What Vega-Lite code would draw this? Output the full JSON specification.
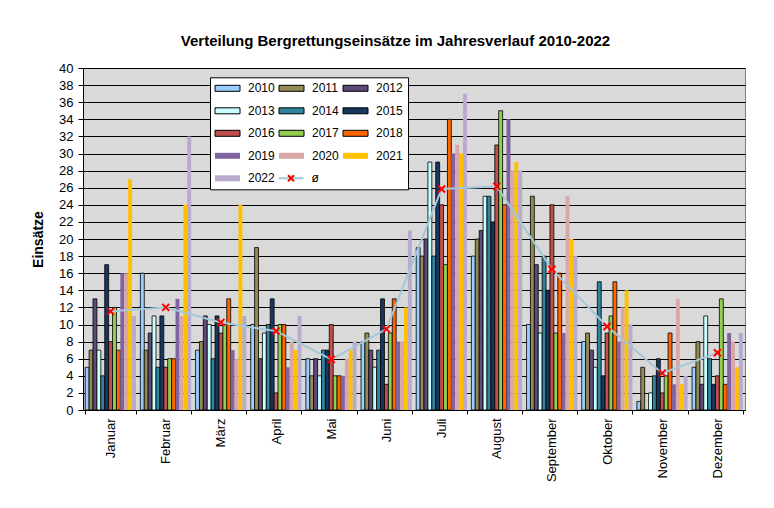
{
  "$schema": "https://vega.github.io/schema/vega-lite/v6.json",
  "width": 662,
  "height": 342,
  "autosize": {"type": "none"},
  "padding": {"left": 83, "top": 68, "right": 29, "bottom": 98},
  "background": "white",
  "config": {
    "font": "Liberation Sans",
    "view": {"fill": "#d9d9d9", "stroke": "#808080", "strokeWidth": 1}
  },
  "title": {
    "text": "Verteilung Bergrettungseinsätze im Jahresverlauf 2010-2022",
    "fontSize": 15, "fontWeight": "bold", "color": "black",
    "anchor": "middle", "frame": "group", "dx": -18.5, "offset": 1, "baseline": "alphabetic"
  },
  "datasets": {
    "bars": [
      {"m":"Januar","y":"2010","v":5},{"m":"Januar","y":"2011","v":7},{"m":"Januar","y":"2012","v":13},{"m":"Januar","y":"2013","v":7},{"m":"Januar","y":"2014","v":4},{"m":"Januar","y":"2015","v":17},{"m":"Januar","y":"2016","v":8},{"m":"Januar","y":"2017","v":12},{"m":"Januar","y":"2018","v":7},{"m":"Januar","y":"2019","v":16},{"m":"Januar","y":"2020","v":16},{"m":"Januar","y":"2021","v":27},{"m":"Januar","y":"2022","v":11},
      {"m":"Februar","y":"2010","v":16},{"m":"Februar","y":"2011","v":7},{"m":"Februar","y":"2012","v":9},{"m":"Februar","y":"2013","v":11},{"m":"Februar","y":"2014","v":5},{"m":"Februar","y":"2015","v":11},{"m":"Februar","y":"2016","v":5},{"m":"Februar","y":"2017","v":6},{"m":"Februar","y":"2018","v":6},{"m":"Februar","y":"2019","v":13},{"m":"Februar","y":"2020","v":11},{"m":"Februar","y":"2021","v":24},{"m":"Februar","y":"2022","v":32},
      {"m":"März","y":"2010","v":7},{"m":"März","y":"2011","v":8},{"m":"März","y":"2012","v":11},{"m":"März","y":"2013","v":10},{"m":"März","y":"2014","v":6},{"m":"März","y":"2015","v":11},{"m":"März","y":"2016","v":9},{"m":"März","y":"2017","v":10},{"m":"März","y":"2018","v":13},{"m":"März","y":"2019","v":7},{"m":"März","y":"2020","v":6},{"m":"März","y":"2021","v":24},{"m":"März","y":"2022","v":11},
      {"m":"April","y":"2010","v":10},{"m":"April","y":"2011","v":19},{"m":"April","y":"2012","v":6},{"m":"April","y":"2013","v":9},{"m":"April","y":"2014","v":10},{"m":"April","y":"2015","v":13},{"m":"April","y":"2016","v":2},{"m":"April","y":"2017","v":10},{"m":"April","y":"2018","v":10},{"m":"April","y":"2019","v":5},{"m":"April","y":"2020","v":8},{"m":"April","y":"2021","v":7},{"m":"April","y":"2022","v":11},
      {"m":"Mai","y":"2010","v":6},{"m":"Mai","y":"2011","v":4},{"m":"Mai","y":"2012","v":6},{"m":"Mai","y":"2013","v":4},{"m":"Mai","y":"2014","v":7},{"m":"Mai","y":"2015","v":7},{"m":"Mai","y":"2016","v":10},{"m":"Mai","y":"2017","v":4},{"m":"Mai","y":"2018","v":4},{"m":"Mai","y":"2019","v":4},{"m":"Mai","y":"2020","v":6},{"m":"Mai","y":"2021","v":7},{"m":"Mai","y":"2022","v":8},
      {"m":"Juni","y":"2010","v":8},{"m":"Juni","y":"2011","v":9},{"m":"Juni","y":"2012","v":7},{"m":"Juni","y":"2013","v":5},{"m":"Juni","y":"2014","v":7},{"m":"Juni","y":"2015","v":13},{"m":"Juni","y":"2016","v":3},{"m":"Juni","y":"2017","v":9},{"m":"Juni","y":"2018","v":13},{"m":"Juni","y":"2019","v":8},{"m":"Juni","y":"2020","v":8},{"m":"Juni","y":"2021","v":12},{"m":"Juni","y":"2022","v":21},
      {"m":"Juli","y":"2010","v":19},{"m":"Juli","y":"2011","v":18},{"m":"Juli","y":"2012","v":20},{"m":"Juli","y":"2013","v":29},{"m":"Juli","y":"2014","v":18},{"m":"Juli","y":"2015","v":29},{"m":"Juli","y":"2016","v":24},{"m":"Juli","y":"2017","v":17},{"m":"Juli","y":"2018","v":34},{"m":"Juli","y":"2019","v":30},{"m":"Juli","y":"2020","v":31},{"m":"Juli","y":"2021","v":30},{"m":"Juli","y":"2022","v":37},
      {"m":"August","y":"2010","v":18},{"m":"August","y":"2011","v":20},{"m":"August","y":"2012","v":21},{"m":"August","y":"2013","v":25},{"m":"August","y":"2014","v":25},{"m":"August","y":"2015","v":22},{"m":"August","y":"2016","v":31},{"m":"August","y":"2017","v":35},{"m":"August","y":"2018","v":24},{"m":"August","y":"2019","v":34},{"m":"August","y":"2020","v":28},{"m":"August","y":"2021","v":29},{"m":"August","y":"2022","v":28},
      {"m":"September","y":"2010","v":10},{"m":"September","y":"2011","v":25},{"m":"September","y":"2012","v":17},{"m":"September","y":"2013","v":9},{"m":"September","y":"2014","v":18},{"m":"September","y":"2015","v":14},{"m":"September","y":"2016","v":24},{"m":"September","y":"2017","v":9},{"m":"September","y":"2018","v":16},{"m":"September","y":"2019","v":9},{"m":"September","y":"2020","v":25},{"m":"September","y":"2021","v":20},{"m":"September","y":"2022","v":18},
      {"m":"Oktober","y":"2010","v":8},{"m":"Oktober","y":"2011","v":9},{"m":"Oktober","y":"2012","v":7},{"m":"Oktober","y":"2013","v":5},{"m":"Oktober","y":"2014","v":15},{"m":"Oktober","y":"2015","v":4},{"m":"Oktober","y":"2016","v":9},{"m":"Oktober","y":"2017","v":11},{"m":"Oktober","y":"2018","v":15},{"m":"Oktober","y":"2019","v":8},{"m":"Oktober","y":"2020","v":12},{"m":"Oktober","y":"2021","v":14},{"m":"Oktober","y":"2022","v":10},
      {"m":"November","y":"2010","v":1},{"m":"November","y":"2011","v":5},{"m":"November","y":"2012","v":0},{"m":"November","y":"2013","v":2},{"m":"November","y":"2014","v":4},{"m":"November","y":"2015","v":6},{"m":"November","y":"2016","v":2},{"m":"November","y":"2017","v":4},{"m":"November","y":"2018","v":9},{"m":"November","y":"2019","v":3},{"m":"November","y":"2020","v":13},{"m":"November","y":"2021","v":3},{"m":"November","y":"2022","v":4},
      {"m":"Dezember","y":"2010","v":5},{"m":"Dezember","y":"2011","v":8},{"m":"Dezember","y":"2012","v":3},{"m":"Dezember","y":"2013","v":11},{"m":"Dezember","y":"2014","v":6},{"m":"Dezember","y":"2015","v":3},{"m":"Dezember","y":"2016","v":4},{"m":"Dezember","y":"2017","v":13},{"m":"Dezember","y":"2018","v":3},{"m":"Dezember","y":"2019","v":9},{"m":"Dezember","y":"2020","v":8},{"m":"Dezember","y":"2021","v":5},{"m":"Dezember","y":"2022","v":9}
    ],
    "avg": [
      {"m":"Januar","a":11.54,"s":"ø","s2":"ø"},
      {"m":"Februar","a":12.0,"s":"ø","s2":"ø"},
      {"m":"März","a":10.23,"s":"ø","s2":"ø"},
      {"m":"April","a":9.23,"s":"ø","s2":"ø"},
      {"m":"Mai","a":5.92,"s":"ø","s2":"ø"},
      {"m":"Juni","a":9.46,"s":"ø","s2":"ø"},
      {"m":"Juli","a":25.85,"s":"ø","s2":"ø"},
      {"m":"August","a":26.15,"s":"ø","s2":"ø"},
      {"m":"September","a":16.46,"s":"ø","s2":"ø"},
      {"m":"Oktober","a":9.77,"s":"ø","s2":"ø"},
      {"m":"November","a":4.31,"s":"ø","s2":"ø"},
      {"m":"Dezember","a":6.69,"s":"ø","s2":"ø"}
    ]
  },
  "layer": [
    {
      "data": {"name": "bars"},
      "mark": {"type": "bar", "strokeWidth": 0.8},
      "encoding": {
        "x": {
          "field": "m", "type": "nominal",
          "sort": ["Januar","Februar","März","April","Mai","Juni","Juli","August","September","Oktober","November","Dezember"],
          "scale": {"paddingInner": 0.08, "paddingOuter": 0.04},
          "axis": {"title": null, "tickBand": "extent", "labelAngle": 270, "labelFontSize": 13, "labelColor": "black", "tickSize": 4, "labelPadding": 4, "domainColor": "black", "tickColor": "black", "grid": false}
        },
        "xOffset": {"field": "y", "type": "nominal", "scale": {"paddingInner": 0, "paddingOuter": 0}},
        "y": {
          "field": "v", "type": "quantitative", "title": "Einsätze",
          "scale": {"domain": [0, 40], "nice": false},
          "axis": {"values": [0,2,4,6,8,10,12,14,16,18,20,22,24,26,28,30,32,34,36,38,40], "labelOverlap": false, "grid": true, "gridColor": "black", "gridWidth": 1, "gridOpacity": 1, "domainColor": "black", "tickColor": "black", "tickSize": 5, "labelPadding": 5, "labelFontSize": 13, "labelColor": "black", "titleFontSize": 14, "titleFontWeight": "bold", "titleColor": "black", "titlePadding": 13}
        },
        "color": {
          "field": "y", "type": "nominal",
          "scale": {"domain": ["2010","2011","2012","2013","2014","2015","2016","2017","2018","2019","2020","2021","2022"],
                    "range": ["#99ccff","#948a54","#604a7b","#ccffff","#31849b","#17375e","#c0504d","#92d050","#ff6600","#8064a2","#d9a7a6","#ffc000","#b8a9cd"]},
          "legend": {"orient": "none", "legendX": 127, "legendY": 9.3, "direction": "horizontal", "title": null, "columns": 3, "symbolType": "M-2.5,-0.6H2.5V0.6H-2.5Z", "symbolSize": 100, "symbolOffset": 6.5, "labelOffset": 14.5, "symbolStrokeWidth": 1, "labelFontSize": 12, "labelColor": "black", "rowPadding": 10.5, "columnPadding": 2, "padding": 5, "fillColor": "white", "strokeColor": "black", "cornerRadius": 0}
        },
        "stroke": {
          "field": "y", "type": "nominal",
          "scale": {"domain": ["2010","2011","2012","2013","2014","2015","2016","2017","2018","2019","2020","2021","2022"],
                    "range": ["black","black","black","black","black","black","black","black","black","transparent","transparent","transparent","transparent"]},
          "legend": {"orient": "none", "legendX": 127, "legendY": 9.3, "direction": "horizontal", "title": null, "columns": 3, "symbolType": "M-2.5,-0.6H2.5V0.6H-2.5Z", "symbolSize": 100, "symbolOffset": 6.5, "labelOffset": 14.5, "symbolStrokeWidth": 1, "labelFontSize": 12, "labelColor": "black", "rowPadding": 10.5, "columnPadding": 2, "padding": 5, "fillColor": "white", "strokeColor": "black", "cornerRadius": 0}
        }
      }
    },
    {
      "data": {"name": "avg"},
      "mark": {"type": "line", "color": "#a4c8d8", "strokeWidth": 2},
      "encoding": {
        "x": {"field": "m", "type": "nominal", "sort": ["Januar","Februar","März","April","Mai","Juni","Juli","August","September","Oktober","November","Dezember"], "title": null},
        "y": {"field": "a", "type": "quantitative", "title": "Einsätze",
          "axis": {"values": [0,2,4,6,8,10,12,14,16,18,20,22,24,26,28,30,32,34,36,38,40], "labelOverlap": false, "grid": true, "gridColor": "black", "gridWidth": 1, "gridOpacity": 1, "domainColor": "black", "tickColor": "black", "tickSize": 5, "labelPadding": 5, "labelFontSize": 13, "labelColor": "black", "titleFontSize": 14, "titleFontWeight": "bold", "titleColor": "black", "titlePadding": 13}},
        "strokeDash": {
          "field": "s", "type": "nominal", "scale": {"range": [[1, 0]]},
          "legend": {"orient": "none", "legendX": 195.5, "legendY": 104.3, "title": null, "symbolType": "M-2.5,0H2.5", "symbolSize": 100, "symbolOffset": 6.5, "labelOffset": 14.5, "symbolStrokeColor": "#a4c8d8", "symbolStrokeWidth": 2, "labelFontSize": 12, "labelColor": "black", "padding": 0, "zindex": 2}
        }
      }
    },
    {
      "data": {"name": "avg"},
      "mark": {"type": "point", "filled": false, "color": "red", "strokeWidth": 2, "size": 49, "opacity": 1},
      "encoding": {
        "x": {"field": "m", "type": "nominal", "sort": ["Januar","Februar","März","April","Mai","Juni","Juli","August","September","Oktober","November","Dezember"], "title": null},
        "y": {"field": "a", "type": "quantitative", "title": "Einsätze",
          "axis": {"values": [0,2,4,6,8,10,12,14,16,18,20,22,24,26,28,30,32,34,36,38,40], "labelOverlap": false, "grid": true, "gridColor": "black", "gridWidth": 1, "gridOpacity": 1, "domainColor": "black", "tickColor": "black", "tickSize": 5, "labelPadding": 5, "labelFontSize": 13, "labelColor": "black", "titleFontSize": 14, "titleFontWeight": "bold", "titleColor": "black", "titlePadding": 13}},
        "shape": {
          "field": "s2", "type": "nominal", "scale": {"range": ["M-1,-1L1,1M-1,1L1,-1"]},
          "legend": {"orient": "none", "legendX": 195.5, "legendY": 104.3, "title": null, "symbolSize": 36, "symbolOffset": 6.5, "labelOffset": 14.5, "symbolStrokeColor": "red", "symbolStrokeWidth": 2, "symbolFillColor": "transparent", "labelFontSize": 12, "labelColor": "transparent", "labelOpacity": 0, "padding": 0, "zindex": 3}
        }
      }
    }
  ]
}
